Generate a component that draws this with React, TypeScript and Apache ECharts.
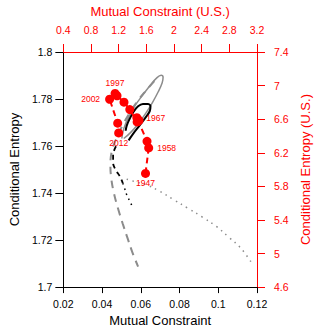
import React, { useEffect, useRef } from "react";
import * as echarts from "echarts";

// U.S. series (top / right axes)
const usYears = [1947, 1958, 1963, 1967, 1972, 1977, 1982, 1987, 1992, 1997, 2002, 2007, 2012];
const usMutualConstraint = [1.588, 1.634, 1.61, 1.463, 1.495, 1.467, 1.361, 1.277, 1.176, 1.148, 1.069, 1.186, 1.2];
const usConditionalEntropy = [5.954, 6.258, 6.336, 6.617, 6.584, 6.567, 6.714, 6.802, 6.879, 6.906, 6.837, 6.552, 6.436];
const labelledYears = [1947, 1958, 1967, 1997, 2002, 2012];

// Other trajectories (bottom / left axes)
const graySolidMC = [0.0502, 0.0512, 0.0537, 0.0571, 0.0611, 0.065, 0.068, 0.0705, 0.0715, 0.071, 0.069, 0.066, 0.0626, 0.0586, 0.0547, 0.0512];
const graySolidCE = [1.7632, 1.7674, 1.7723, 1.7773, 1.7818, 1.786, 1.7888, 1.7901, 1.7893, 1.7868, 1.7831, 1.7785, 1.774, 1.7694, 1.7657, 1.7632];

const blackSolidMC = [0.0537, 0.0561, 0.0596, 0.0626, 0.0646, 0.065, 0.0636, 0.0611, 0.0586, 0.0561, 0.0542, 0.0527, 0.0522];
const blackSolidCE = [1.7624, 1.7653, 1.769, 1.7723, 1.7748, 1.7769, 1.7779, 1.7779, 1.7769, 1.7744, 1.7715, 1.7686, 1.7665];

const blackDashedMC = [0.0472, 0.0457, 0.0457, 0.0472, 0.0492, 0.0507];
const blackDashedCE = [1.7599, 1.7562, 1.7529, 1.7496, 1.7471, 1.7442];

const blackDottedMC = [0.0507, 0.0517, 0.0527, 0.0542, 0.0556];
const blackDottedCE = [1.7442, 1.7418, 1.7393, 1.7368, 1.7343];

const grayDashedMC = [0.067, 0.0626, 0.0581, 0.0542, 0.0507, 0.0477, 0.0452, 0.0443, 0.0448, 0.0462, 0.0482, 0.0507, 0.0532, 0.0556, 0.0586];
const grayDashedCE = [1.7876, 1.7835, 1.7789, 1.774, 1.769, 1.7637, 1.7583, 1.7521, 1.7459, 1.7397, 1.7335, 1.7269, 1.7207, 1.7149, 1.7087];

const grayDottedMC = [0.0527, 0.0576, 0.0631, 0.0695, 0.0769, 0.0844, 0.0918, 0.0992, 0.1056, 0.1116, 0.1175];
const grayDottedCE = [1.7459, 1.7447, 1.7434, 1.7409, 1.7372, 1.7335, 1.7298, 1.7257, 1.7211, 1.7166, 1.71];

const FONT = "Liberation Sans, Arial, Helvetica, sans-serif";
const RED = "#ff0000";
const GRAY = "#8c8c8c";

const labelPlacement: Record<number, { position: string; distance: number }> = {
  1947: { position: "bottom", distance: 1 },
  1958: { position: "right", distance: 4 },
  1967: { position: "right", distance: 5 },
  1997: { position: "top", distance: 1 },
  2002: { position: "left", distance: 5 },
  2012: { position: "bottom", distance: 1 },
};

const zip = (a: number[], b: number[]) => a.map((v, i) => [v, b[i]]);
const fmt = (v: number) => String(Math.round(v * 10000) / 10000);

export default function App() {
  const ref = useRef<HTMLDivElement>(null);
  useEffect(() => {
    if (!ref.current) return;
    const chart = echarts.init(ref.current, undefined, { renderer: "svg" });

    const usData = usYears.map((yr, i) => {
      const item: any = { value: [usMutualConstraint[i], usConditionalEntropy[i]], name: String(yr) };
      if (labelledYears.includes(yr)) {
        const p = labelPlacement[yr];
        item.label = { show: true, position: p.position, distance: p.distance };
      }
      return item;
    });

    const axisCommon = (color: string) => ({
      type: "value" as const,
      nameLocation: "middle" as const,
      nameTextStyle: { fontSize: 13, color, fontFamily: FONT },
      axisLine: { show: true, onZero: false, lineStyle: { color, width: 1 } },
      axisLabel: { fontSize: 10.5, color, fontFamily: FONT, showMinLabel: true, showMaxLabel: true, formatter: fmt },
      splitLine: { show: false },
    });

    const lineSeries = (mc: number[], ce: number[], color: string, type: any, width: number, z: number) => ({
      type: "line",
      data: zip(mc, ce),
      xAxisIndex: 0,
      yAxisIndex: 0,
      showSymbol: false,
      smooth: 0.4,
      lineStyle: { color, type, width, cap: "butt" },
      z,
      silent: true,
    });

    chart.setOption({
      animation: false,
      backgroundColor: "#ffffff",
      grid: { left: 55, right: 75, top: 49, bottom: 41, containLabel: false },
      xAxis: [
        {
          ...axisCommon("#000000"),
          position: "bottom",
          min: 0.02,
          max: 0.12,
          interval: 0.02,
          name: "Mutual Constraint",
          nameGap: 22,
          axisTick: { show: true, length: 6, lineStyle: { color: "#000000" } },
          axisLabel: { ...axisCommon("#000000").axisLabel, margin: 11 },
        },
        {
          ...axisCommon(RED),
          position: "top",
          min: 0.4,
          max: 3.2,
          interval: 0.4,
          name: "Mutual Constraint (U.S.)",
          nameGap: 34,
          axisTick: { show: true, length: 8, lineStyle: { color: RED } },
          axisLabel: { ...axisCommon(RED).axisLabel, margin: 17 },
        },
      ],
      yAxis: [
        {
          ...axisCommon("#000000"),
          position: "left",
          min: 1.7,
          max: 1.8,
          interval: 0.02,
          name: "Conditional Entropy",
          nameGap: 39,
          axisTick: { show: true, length: 8, lineStyle: { color: "#000000" } },
          axisLabel: { ...axisCommon("#000000").axisLabel, margin: 11 },
        },
        {
          ...axisCommon(RED),
          position: "right",
          min: 4.6,
          max: 7.4,
          interval: 0.4,
          name: "Conditional Entropy (U.S.)",
          nameGap: 42,
          axisTick: { show: true, length: 8, lineStyle: { color: RED } },
          axisLabel: { ...axisCommon(RED).axisLabel, margin: 17 },
        },
      ],
      series: [
        lineSeries(grayDottedMC, grayDottedCE, GRAY, [1.5, 4.5], 1.5, 2),
        lineSeries(grayDashedMC, grayDashedCE, GRAY, [8, 6], 2, 2),
        lineSeries(graySolidMC, graySolidCE, GRAY, "solid", 1.5, 3),
        lineSeries(blackDottedMC, blackDottedCE, "#000000", [1.5, 4], 1.5, 4),
        lineSeries(blackDashedMC, blackDashedCE, "#000000", [5, 4], 1.8, 4),
        lineSeries(blackSolidMC, blackSolidCE, "#000000", "solid", 2, 5),
        {
          type: "line",
          xAxisIndex: 1,
          yAxisIndex: 1,
          data: usData,
          symbol: "circle",
          symbolSize: 9,
          showSymbol: true,
          itemStyle: { color: RED },
          lineStyle: { color: RED, type: [6, 4], width: 2 },
          label: {
            show: false,
            color: RED,
            fontSize: 8.5,
            fontFamily: FONT,
            formatter: (p: any) => p.name,
          },
          z: 10,
          silent: true,
        },
      ],
    });
    return () => chart.dispose();
  }, []);

  return (
    <div
      ref={ref}
      style={{ position: "fixed", left: 0, top: 0, width: 332, height: 332, background: "#fff" }}
    />
  );
}
